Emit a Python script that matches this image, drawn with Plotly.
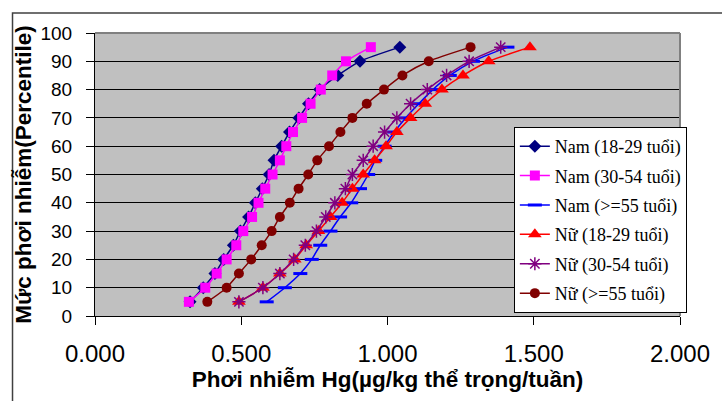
import plotly.graph_objects as go

percentiles = [5, 10, 15, 20, 25, 30, 35, 40, 45, 50, 55, 60, 65, 70, 75, 80, 85, 90, 95]

nam_18_29 = [0.325, 0.370, 0.410, 0.440, 0.473, 0.497, 0.525, 0.548, 0.572, 0.595,
             0.612, 0.638, 0.665, 0.697, 0.730, 0.768, 0.830, 0.906, 1.042]
nam_30_54 = [0.321, 0.377, 0.416, 0.450, 0.483, 0.507, 0.537, 0.559, 0.582, 0.607,
             0.632, 0.654, 0.677, 0.708, 0.737, 0.772, 0.811, 0.858, 0.943]
nam_55 = [0.587, 0.649, 0.702, 0.741, 0.770, 0.805, 0.838, 0.876, 0.906, 0.934,
          0.958, 0.990, 1.023, 1.062, 1.107, 1.155, 1.213, 1.292, 1.410]
nu_18_29 = [0.492, 0.574, 0.632, 0.683, 0.722, 0.764, 0.805, 0.845, 0.880, 0.917,
            0.956, 0.995, 1.032, 1.079, 1.129, 1.186, 1.258, 1.346, 1.487]
nu_30_54 = [0.492, 0.574, 0.632, 0.679, 0.719, 0.757, 0.789, 0.820, 0.856, 0.880,
            0.917, 0.951, 0.990, 1.032, 1.079, 1.136, 1.202, 1.279, 1.387]
nu_55 = [0.384, 0.450, 0.492, 0.534, 0.570, 0.604, 0.632, 0.666, 0.696, 0.729,
         0.760, 0.800, 0.839, 0.880, 0.929, 0.988, 1.051, 1.141, 1.284]

series_names = ["Nam (18-29 tuổi)", "Nam (30-54 tuổi)", "Nam (>=55 tuổi)",
                "Nữ (18-29 tuổi)", "Nữ (30-54 tuổi)", "Nữ (>=55 tuổi)"]
series_values = [nam_18_29, nam_30_54, nam_55, nu_18_29, nu_30_54, nu_55]

x_tick_vals = [0, 0.5, 1.0, 1.5, 2.0]
x_tick_text = ["0.000", "0.500", "1.000", "1.500", "2.000"]

styles = [
    dict(color="#000080", symbol="diamond", size=10, lw=0),
    dict(color="#FF00FF", symbol="square", size=10, lw=0),
    dict(color="#0000FF", symbol="line-ew-open", size=10, lw=3),
    dict(color="#FF0000", symbol="triangle-up", size=12, lw=0),
    dict(color="#800080", symbol="asterisk-open", size=11, lw=1.5),
    dict(color="#800000", symbol="circle", size=10, lw=0),
]

fig = go.Figure()
for i, (name, vals) in enumerate(zip(series_names, series_values)):
    s = styles[i]
    fig.add_trace(go.Scatter(
        x=vals, y=percentiles, name=name, mode="lines+markers",
        line=dict(color=s["color"], width=1.5, shape="spline", smoothing=0.6),
        marker=dict(symbol=s["symbol"], size=s["size"], color=s["color"],
                    line=dict(color=s["color"], width=s["lw"])),
        legendgroup=str(i),
    ))

fig.update_layout(
    width=722, height=401,
    margin=dict(l=95, r=31, t=33, b=85),
    paper_bgcolor="white",
    plot_bgcolor="#C0C0C0",
    font=dict(family="Liberation Sans, Arial", color="black"),
    showlegend=True,
    legend=dict(
        x=0.716, y=0.668, xanchor="left", yanchor="top",
        bgcolor="white", bordercolor="black", borderwidth=1,
        font=dict(family="Liberation Serif, Times New Roman", size=18, color="black"),
        tracegroupgap=3,
    ),
    xaxis=dict(
        range=[0, 2], tickvals=x_tick_vals, ticktext=x_tick_text,
        showgrid=False, zeroline=False,
        showline=True, linecolor="black", linewidth=1,
        ticks="outside", ticklen=8, tickcolor="black",
        tickfont=dict(size=24), ticklabelstandoff=8,
        title=dict(text="<b>Phơi nhiễm Hg(µg/kg thể trọng/tuần)</b>", font=dict(size=22.5), standoff=4),
    ),
    yaxis=dict(
        range=[0, 100], dtick=10,
        showgrid=True, gridcolor="black", gridwidth=1, zeroline=False,
        showline=True, linecolor="black", linewidth=1,
        ticks="outside", ticklen=8, tickcolor="black",
        tickfont=dict(size=19), ticklabelstandoff=10,
        title=dict(text="<b>Mức phơi nhiễm(Percentile)</b>", font=dict(size=22.5), standoff=2),
    ),
    shapes=[
        dict(type="line", xref="paper", yref="paper", x0=0, x1=1, y0=1, y1=1,
             line=dict(color="#808080", width=2)),
        dict(type="line", xref="paper", yref="paper", x0=1, x1=1, y0=0, y1=1,
             line=dict(color="#808080", width=2)),
        dict(type="rect", xref="paper", yref="paper", x0=-0.141, x1=1.2, y0=-0.5, y1=1.0707,
             line=dict(color="#404040", width=1.5), layer="below"),
    ],
)

fig.write_html("out.html")
